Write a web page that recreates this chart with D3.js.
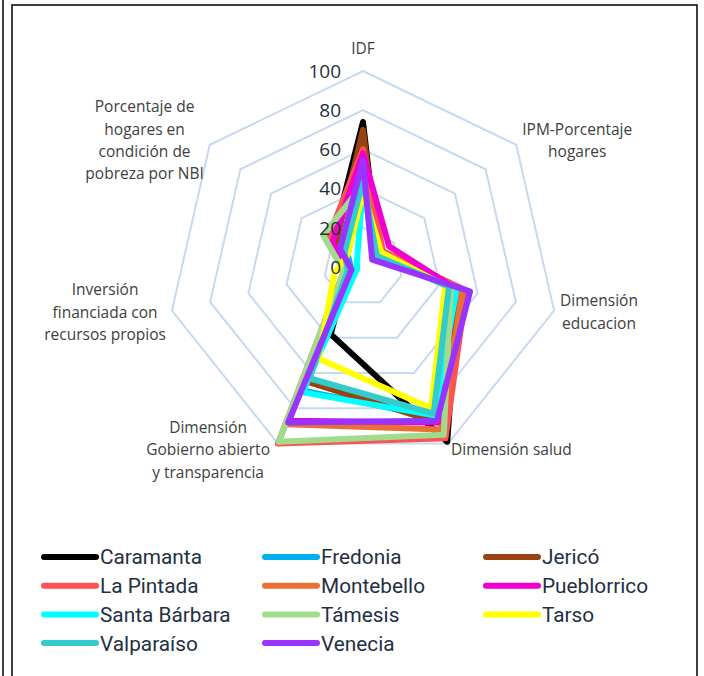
<!DOCTYPE html>
<html>
<head>
<meta charset="utf-8">
<script src="https://cdn.jsdelivr.net/npm/d3@7/dist/d3.min.js"></script>
<style>
  html, body { margin: 0; padding: 0; background: #fff; }
  svg { display: block; }
</style>
</head>
<body>
<svg id="chart" width="704" height="676"></svg>
<script>
// Radar axes, clockwise from the top
const axes = [
  ["IDF"],
  ["IPM-Porcentaje", "hogares"],
  ["Dimensión", "educacion"],
  ["Dimensión salud"],
  ["Dimensión", "Gobierno abierto", "y transparencia"],
  ["Inversión", "financiada con", "recursos propios"],
  ["Porcentaje de", "hogares en", "condición de", "pobreza por NBI"]
];

const ticks = [0, 20, 40, 60, 80, 100];

const municipios = ["Caramanta", "Fredonia", "Jericó", "La Pintada", "Montebello",
  "Pueblorrico", "Santa Bárbara", "Támesis", "Tarso", "Valparaíso", "Venecia"];

const colores = ["#000000", "#00B0F0", "#9A4311", "#FF5252", "#E97132",
  "#F000D0", "#00FFFF", "#A0DC8C", "#FFFF00", "#33CCCC", "#9933FF"];

// IDF, IPM, educación, salud, gobierno abierto, inversión propia, NBI
const caramanta    = [74, 10, 50, 99, 38, 8, 20];
const fredonia     = [45, 10, 49, 85, 70, 6, 10];
const jerico       = [70, 10, 50, 88, 65, 8, 18];
const laPintada    = [60, 13, 54, 97, 100, 10, 23];
const montebello   = [48, 10, 52, 92, 89, 10, 15];
const pueblorrico  = [58, 17, 48, 88, 87, 8, 20];
const santaBarbara = [42, 8, 49, 84, 71, 3, 4];
const tamesis      = [42, 9, 46, 95, 99, 10, 26];
const tarso        = [38, 12, 43, 80, 52, 15, 10];
const valparaiso   = [44, 9, 45, 83, 63, 8, 12];
const venecia      = [54, 6, 56, 87, 88, 6, 15];

const series = [caramanta, fredonia, jerico, laPintada, montebello, pueblorrico,
  santaBarbara, tamesis, tarso, valparaiso, venecia];

const svg = d3.select("#chart");
const cx = 363, cy = 267, R = 196;

// frame
svg.append("line").attr("x1", 3).attr("x2", 3).attr("y1", 0).attr("y2", 676)
  .attr("stroke", "#000").attr("stroke-width", 1.5);
svg.append("rect").attr("x", 12).attr("y", 5).attr("width", 685).attr("height", 700)
  .attr("fill", "none").attr("stroke", "#000").attr("stroke-width", 1.5);

const r = d3.scaleLinear().domain([0, 100]).range([0, R]);
const angle = d3.scalePoint().domain(d3.range(axes.length + 1)).range([0, 2 * Math.PI]);
const g = svg.append("g").attr("transform", `translate(${cx},${cy})`);

// grid rings
const ring = d3.lineRadial().angle((d, i) => angle(i % axes.length)).radius(d => r(d))
  .curve(d3.curveLinearClosed);
ticks.filter(t => t > 0).forEach(t => {
  g.append("path").attr("d", ring(axes.map(() => t)))
    .attr("fill", "none").attr("stroke", "#C6D9F0").attr("stroke-width", 2);
});

// series polygons
const poly = d3.lineRadial().angle((d, i) => angle(i)).radius(d => r(d))
  .curve(d3.curveLinearClosed);
series.forEach((s, k) => {
  g.append("path").attr("d", poly(s))
    .attr("fill", "none").attr("stroke", colores[k]).attr("stroke-width", 6)
    .attr("stroke-linejoin", "round");
});

// value ticks along the IDF axis
ticks.forEach(t => {
  g.append("text").attr("x", -22).attr("y", -r(t)).attr("dy", "0.36em")
    .attr("text-anchor", "end").attr("font-family", "Open Sans, sans-serif")
    .attr("font-size", 19).attr("fill", "#1F3044").text(t);
});

// axis labels: a centred text block placed just outside the outer ring vertex
const lh = 22.3;
axes.forEach((lines, i) => {
  const a = angle(i);
  const s = Math.sin(a), c = Math.cos(a);
  const vx = Math.sin(a) * r(100), vy = -Math.cos(a) * r(100);
  const t = g.append("text").attr("text-anchor", "middle")
    .attr("font-family", "Open Sans, sans-serif").attr("font-size", 15.5)
    .attr("fill", "#404040");
  const spans = lines.map(ln => t.append("tspan").text(ln));
  const w = d3.max(spans, sp => sp.node().getComputedTextLength());
  let bx, by;
  if (Math.abs(s) < 0.1) { bx = vx; by = vy - 22; }
  else {
    const gap = s > 0 ? (c < -0.5 ? 3 : 6) : (c < -0.5 ? 8 : 6);
    bx = s > 0 ? vx + gap + w / 2 : vx - gap - w / 2;
    by = vy - c * 7;
  }
  const y0 = by - (lines.length - 1) * lh / 2;
  spans.forEach((sp, j) => sp.attr("x", bx).attr("y", y0 + j * lh).attr("dy", "0.35em"));
});

// legend
const legend = svg.append("g");
municipios.forEach((m, k) => {
  const col = k % 3, row = Math.floor(k / 3);
  const x = 42 + col * 221, y = 557 + row * 28.7;
  legend.append("line").attr("x1", x + 2).attr("x2", x + 54).attr("y1", y).attr("y2", y)
    .attr("stroke", colores[k]).attr("stroke-width", 6).attr("stroke-linecap", "round");
  legend.append("text").attr("x", x + 58).attr("y", y).attr("dy", "0.36em")
    .attr("font-family", "Roboto, sans-serif").attr("font-size", 20.8)
    .attr("fill", "#1F3044").text(m);
});
</script>
</body>
</html>
